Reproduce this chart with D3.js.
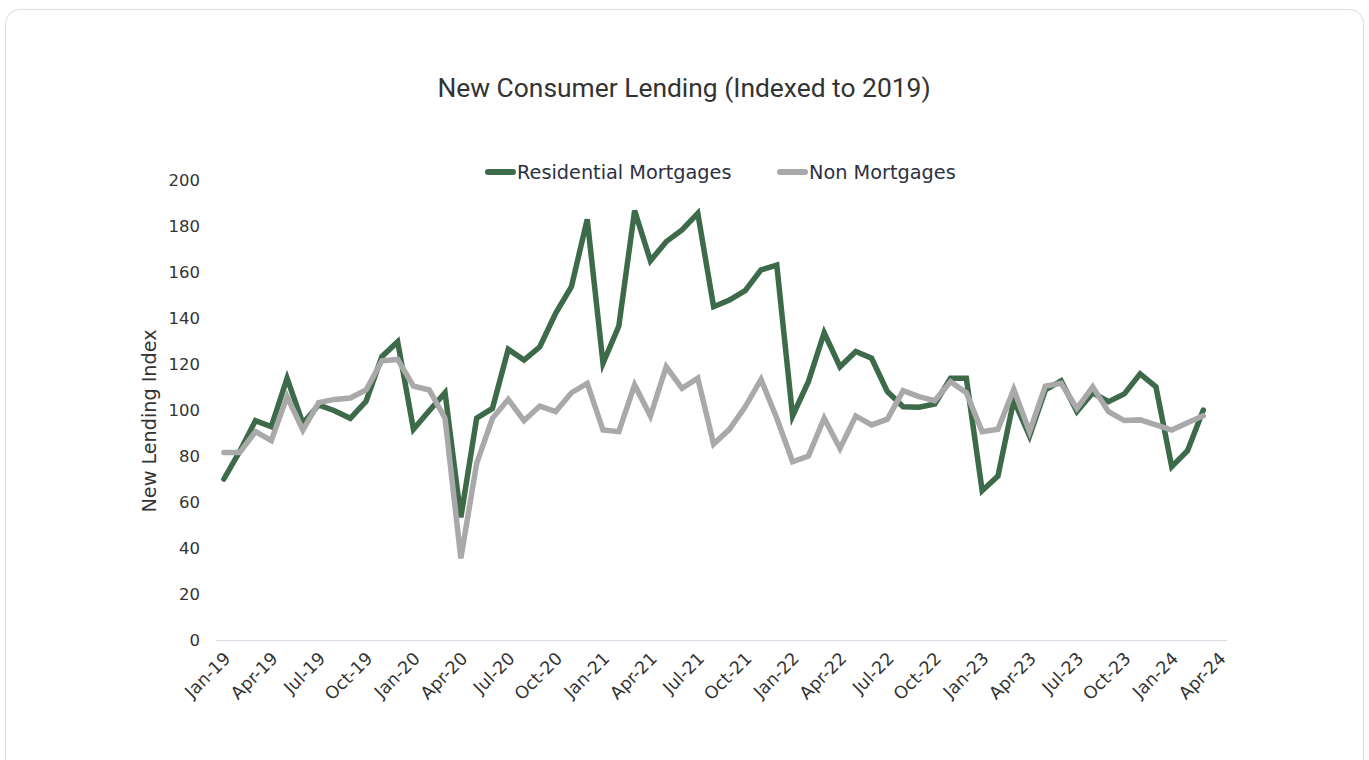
<!DOCTYPE html>
<html>
<head>
<meta charset="utf-8">
<script src="https://cdn.jsdelivr.net/npm/d3@7/dist/d3.min.js"></script>
<style>
  html, body { margin: 0; padding: 0; background: #ffffff; }
  #chart { width: 1369px; height: 760px; }
</style>
</head>
<body>
<div id="chart"></div>
<script>
/** Data: monthly index values */
const months = [
  "Jan-19","Feb-19","Mar-19","Apr-19","May-19","Jun-19","Jul-19","Aug-19","Sep-19","Oct-19","Nov-19","Dec-19",
  "Jan-20","Feb-20","Mar-20","Apr-20","May-20","Jun-20","Jul-20","Aug-20","Sep-20","Oct-20","Nov-20","Dec-20",
  "Jan-21","Feb-21","Mar-21","Apr-21","May-21","Jun-21","Jul-21","Aug-21","Sep-21","Oct-21","Nov-21","Dec-21",
  "Jan-22","Feb-22","Mar-22","Apr-22","May-22","Jun-22","Jul-22","Aug-22","Sep-22","Oct-22","Nov-22","Dec-22",
  "Jan-23","Feb-23","Mar-23","Apr-23","May-23","Jun-23","Jul-23","Aug-23","Sep-23","Oct-23","Nov-23","Dec-23",
  "Jan-24","Feb-24","Mar-24","Apr-24"
];

const residentialMortgages = [
  70, 82, 95.4, 92.8, 113.8, 94.2, 102.2, 99.7, 96.4, 103.8, 123.2, 129.7,
  91.6, 99.7, 107.5, 53.3, 96.4, 100.7, 126.4, 121.7, 127.5, 142, 153.6, 182.9,
  120.3, 136.5, 186.7, 164.9, 173.2, 178.3, 185.5, 144.9, 147.8, 151.9, 160.9, 163,
  97.4, 112.3, 133.6, 118.8, 125.4, 122.5, 108, 101.4, 101.2, 102.6, 113.8, 113.8,
  64.9, 71.3, 104.3, 88.7, 108.7, 112.7, 99.3, 107.5, 103.6, 107, 115.7, 110.1,
  75.4, 82.3, 100
];

const nonMortgages = [
  81.5, 81.5, 90.6, 86.7, 105.8, 91.3, 103.2, 104.6, 105.2, 108.7, 121.4, 122,
  110.4, 108.7, 96.4, 35.5, 76.8, 96.4, 104.6, 95.4, 101.7, 99.3, 107.5, 111.6,
  91.3, 90.6, 110.9, 97.4, 118.8, 109.4, 113.8, 85.2, 91.6, 101.4, 113.3, 96.4,
  77.5, 80, 96.4, 83.3, 97.4, 93.5, 96, 108.4, 105.8, 104.1, 112.3, 107.5,
  90.6, 91.6, 109, 90.6, 110.4, 111.6, 100.7, 110.1, 99.3, 95.4, 95.7, 93.5,
  91.3, 94.5, 97.5
];

const seriesNames = ["Residential Mortgages", "Non Mortgages"];
const seriesColors = ["#3d6a49", "#a9a9a9"];
const yTicks = [0, 20, 40, 60, 80, 100, 120, 140, 160, 180, 200];
const xTickLabels = months.filter((_, i) => i % 3 === 0);

/** Graph configs */
const width = 1369;
const height = 760;
const plot = { left: 216, right: 1227, top: 180, bottom: 640 };
const textColor = "#333333";
const sansFont = "'DejaVu Sans', Verdana, sans-serif";

const svg = d3
  .select("#chart")
  .append("svg")
  .attr("width", width)
  .attr("height", height);

/** Card background */
svg
  .append("rect")
  .attr("x", 5.5)
  .attr("y", 9.5)
  .attr("width", 1358)
  .attr("height", 770)
  .attr("rx", 14)
  .attr("fill", "#ffffff")
  .attr("stroke", "#dcdcdc");

/** Title */
svg
  .append("text")
  .attr("x", 684)
  .attr("y", 97)
  .attr("text-anchor", "middle")
  .style("font-family", "Roboto, 'Liberation Sans', sans-serif")
  .style("font-size", "26.4px")
  .style("fill", textColor)
  .text("New Consumer Lending (Indexed to 2019)");

/** Scales */
const x = d3.scaleBand().domain(months).range([plot.left, plot.right]);
const cx = (m) => x(m) + x.bandwidth() / 2;
const y = d3.scaleLinear().domain([0, 200]).range([plot.bottom, plot.top]);

/** Y axis labels */
const yAxis = svg
  .append("g")
  .attr("transform", `translate(${plot.left - 16}, 0)`)
  .call(d3.axisLeft(y).tickValues(yTicks).tickSize(0).tickPadding(0));
yAxis.select(".domain").remove();
yAxis
  .selectAll("text")
  .style("font-family", sansFont)
  .style("font-size", "16.5px")
  .style("fill", textColor);

/** Y axis title */
svg
  .append("text")
  .attr("transform", `translate(156, 421) rotate(-90)`)
  .attr("text-anchor", "middle")
  .style("font-family", sansFont)
  .style("font-size", "19.2px")
  .style("fill", textColor)
  .text("New Lending Index");

/** X axis */
svg
  .append("line")
  .attr("x1", plot.left)
  .attr("x2", plot.right)
  .attr("y1", plot.bottom + 0.5)
  .attr("y2", plot.bottom + 0.5)
  .attr("stroke", "#d3dbe6")
  .attr("stroke-width", 1);

svg
  .append("g")
  .selectAll("text")
  .data(xTickLabels)
  .enter()
  .append("text")
  .attr("transform", (d) => `translate(${cx(d) - 1}, ${plot.bottom + 11}) rotate(-45)`)
  .attr("text-anchor", "end")
  .attr("dy", "0.7em")
  .style("font-family", sansFont)
  .style("font-size", "17.5px")
  .style("fill", textColor)
  .text((d) => d);

/** Lines */
const line = d3
  .line()
  .x((d) => cx(d.month))
  .y((d) => y(d.value));

const seriesData = [residentialMortgages, nonMortgages].map((vals) =>
  vals.map((v, i) => ({ month: months[i], value: v }))
);

svg
  .append("g")
  .selectAll("path")
  .data(seriesData)
  .enter()
  .append("path")
  .attr("d", line)
  .attr("fill", "none")
  .attr("stroke", (_, i) => seriesColors[i])
  .attr("stroke-width", 5.5)
  .attr("stroke-linecap", "round")
  .attr("stroke-linejoin", "miter");

/** Legend */
const legendItems = [
  { name: seriesNames[0], color: seriesColors[0], x: 488 },
  { name: seriesNames[1], color: seriesColors[1], x: 780 },
];
const legend = svg
  .append("g")
  .selectAll("g")
  .data(legendItems)
  .enter()
  .append("g")
  .attr("transform", (d) => `translate(${d.x}, 172)`);

legend
  .append("line")
  .attr("x1", 0)
  .attr("x2", 25)
  .attr("stroke", (d) => d.color)
  .attr("stroke-width", 6)
  .attr("stroke-linecap", "round");

legend
  .append("text")
  .attr("x", 29)
  .attr("dy", "0.35em")
  .style("font-family", sansFont)
  .style("font-size", "19.3px")
  .style("fill", "#2b3142")
  .text((d) => d.name);
</script>
</body>
</html>
